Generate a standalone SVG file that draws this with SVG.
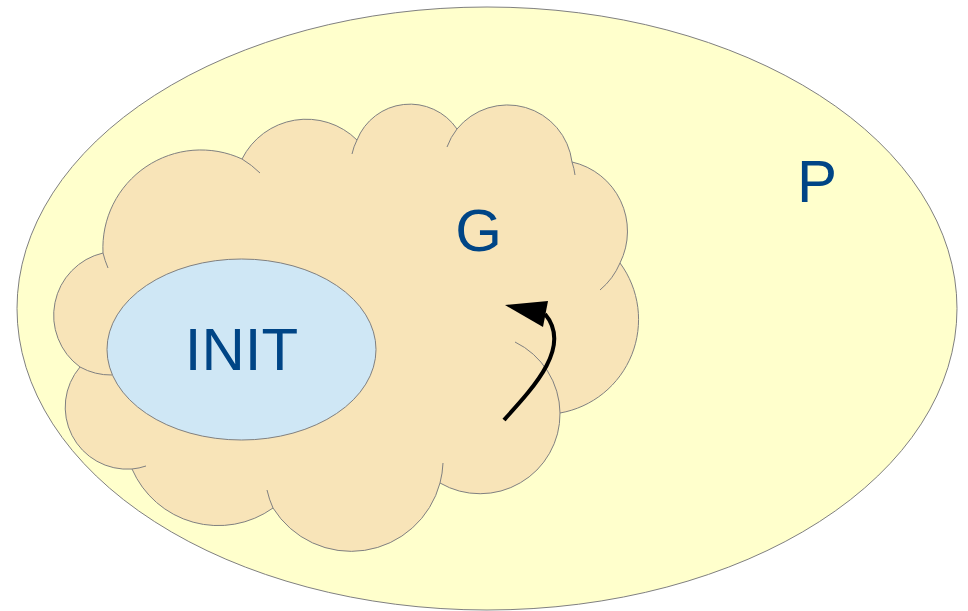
<svg xmlns="http://www.w3.org/2000/svg" width="968" height="611" viewBox="0 0 968 611">
<style>
.edge{fill:none;stroke:#808080;stroke-width:1}
.lbl{font-family:"Liberation Sans",Arial,sans-serif;font-size:60px;fill:#004586}
</style>
<rect width="968" height="611" fill="#ffffff"/>
<g id="P">
<ellipse cx="487" cy="308.5" rx="470" ry="301.5" fill="#ffffcc" stroke="#808080" stroke-width="1"/>
<text class="lbl" x="797" y="202">P</text>
</g>
<g id="G">
<path d="M103,253 A98,98 0 0 1 242,159 A72,72 0 0 1 357,140 A57,57 0 0 1 457,129 A65,65 0 0 1 572,162 A71,71 0 0 1 620,263 A95,95 0 0 1 560,413 A80,80 0 0 1 440,483 A92,92 0 0 1 273,508 A94,94 0 0 1 132,469 A62,62 0 0 1 80,367 A64,64 0 0 1 103,253 Z" fill="#f8e4b8" stroke="#808080" stroke-width="1"/>
<path class="edge" d="M108,268 A98,98 0 0 1 103,253"/>
<path class="edge" d="M242,159 A98,98 0 0 1 260,173"/>
<path class="edge" d="M352,154 A57,57 0 0 1 357,140"/>
<path class="edge" d="M447,147 A65,65 0 0 1 457,129"/>
<path class="edge" d="M572,162 A65,65 0 0 1 575,175"/>
<path class="edge" d="M620,263 A71,71 0 0 1 600,290"/>
<path class="edge" d="M515,342 A80,80 0 0 1 560,413"/>
<path class="edge" d="M443,463 A92,92 0 0 1 440,483"/>
<path class="edge" d="M273,508 A92,92 0 0 1 267,490"/>
<path class="edge" d="M146,466 A62,62 0 0 1 132,469"/>
<path class="edge" d="M112,375 A64,64 0 0 1 80,367"/>
<text class="lbl" x="478.5" y="251" text-anchor="middle">G</text>
</g>
<g id="INIT">
<ellipse cx="241.5" cy="349.5" rx="134.5" ry="90.5" fill="#cfe7f5" stroke="#808080" stroke-width="1"/>
<text class="lbl" x="241.5" y="370" text-anchor="middle">INIT</text>
</g>
<g id="connectors">
<path d="M504,420 C535,386 572,346 545,314" fill="none" stroke="#000000" stroke-width="4"/>
<polygon points="505,305 548,301 543,327" fill="#000000"/>
</g>
</svg>
